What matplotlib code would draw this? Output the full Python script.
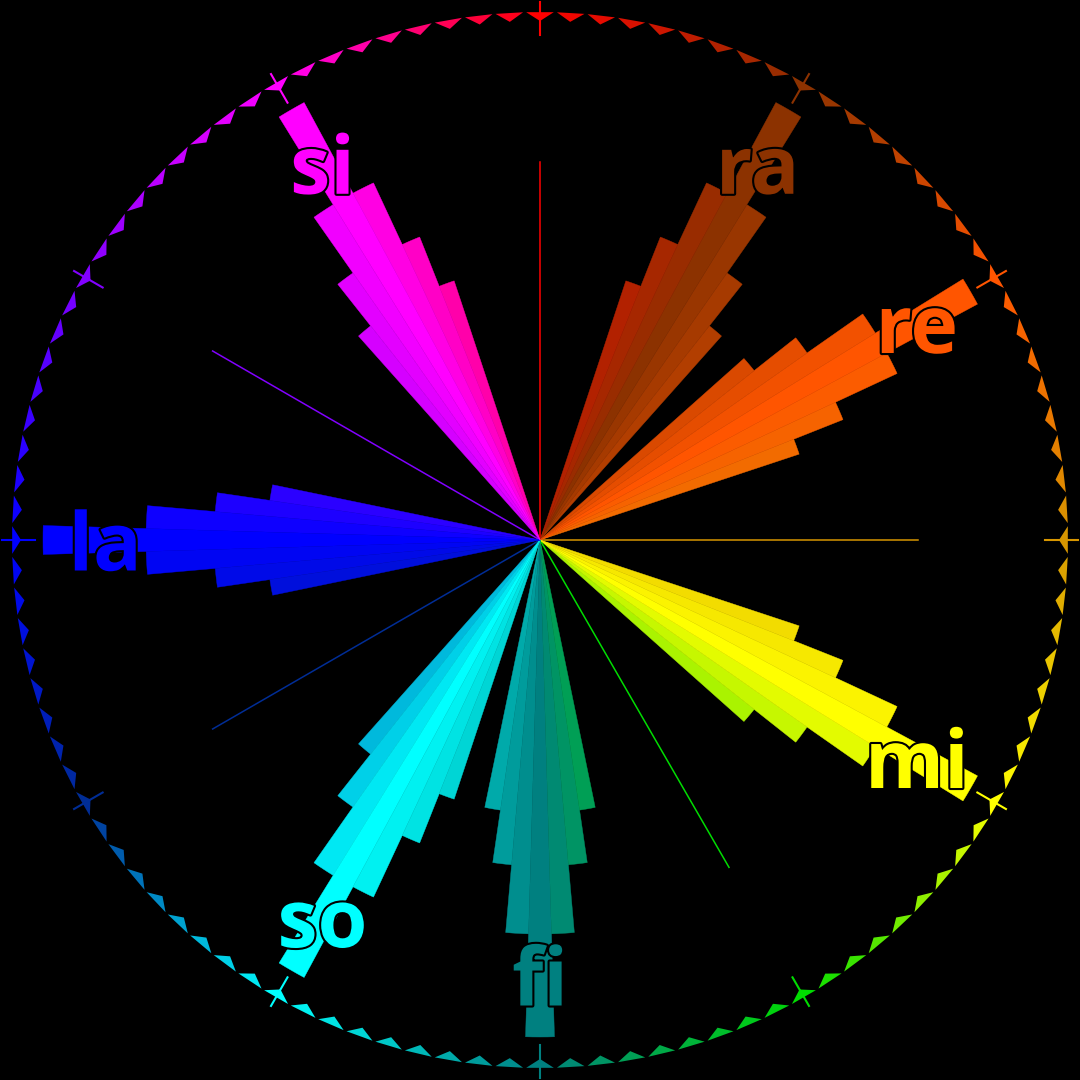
import numpy as np
import matplotlib
matplotlib.use('Agg')
import matplotlib.pyplot as plt
import matplotlib.patheffects as pe
from matplotlib.colors import to_rgb

# twelve chromatic syllables, clockwise from the top
notes = ['do', 'ra', 're', 'me', 'mi', 'fa', 'fi', 'so', 'le', 'la', 'te', 'si']
note_colors = ['#ff0000', '#8c3200', '#ff5500', '#d79600', '#ffff00', '#00dc00',
               '#008080', '#00ffff', '#002d96', '#0000ff', '#8200ff', '#ff00ff']
active = ['ra', 're', 'mi', 'fi', 'so', 'la', 'si']

# sub-bars of each active note (offset in degrees, length)
bar_offsets = [-10.0, -6.667, -3.333, 0.0, 3.333, 6.667, 10.0]
bar_heights = [273, 326, 394, 497, 394, 326, 273]
idle_height = 378

SLICE = 30 / 9
R_RING = 528
R_LABEL = 435


def note_angle(i):
    return 90 - 30 * i


def mix(i, off):
    # blend the note colour toward its neighbour on the side of the offset
    f = abs(off) / 30
    j = (i - 1) % 12 if off > 0 else (i + 1) % 12
    a = np.array(to_rgb(note_colors[i]))
    b = np.array(to_rgb(note_colors[j]))
    return tuple(a * (1 - f) + b * f)


fig = plt.figure(figsize=(10.8, 10.8), dpi=100, facecolor='black')
ax = fig.add_axes([0, 0, 1, 1], projection='polar')
ax.set_facecolor('black')
ax.set_ylim(0, 540)
ax.axis('off')

for i, name in enumerate(notes):
    th = note_angle(i)
    col = note_colors[i]

    if name in active:
        for off, h in zip(bar_offsets, bar_heights):
            c = mix(i, off)
            ax.bar(np.deg2rad(th + off), h, width=np.deg2rad(SLICE), bottom=0,
                   color=c, edgecolor=c, linewidth=0.3, zorder=2)
        ax.text(np.deg2rad(th), R_LABEL, name, ha='center', va='center_baseline',
                fontsize=58, fontweight='bold', family='Open Sans', color=col,
                zorder=5,
                path_effects=[pe.withStroke(linewidth=3, foreground='black')])
    else:
        ax.plot([np.deg2rad(th)] * 2, [0, idle_height], color=col, lw=1.1, zorder=1)

    # sawtooth ring
    for k in range(-4, 5):
        t = th + k * SLICE
        ax.fill(np.deg2rad([t - 1.5, t + 1.5, t]), [R_RING, R_RING, R_RING - 9],
                color=mix(i, k * SLICE), lw=0, zorder=3)

    # radial tick across the ring
    ax.plot([np.deg2rad(th)] * 2, [505, 538], color=col, lw=1.5, zorder=3)

fig.savefig('out.png', dpi=100, facecolor='black')
